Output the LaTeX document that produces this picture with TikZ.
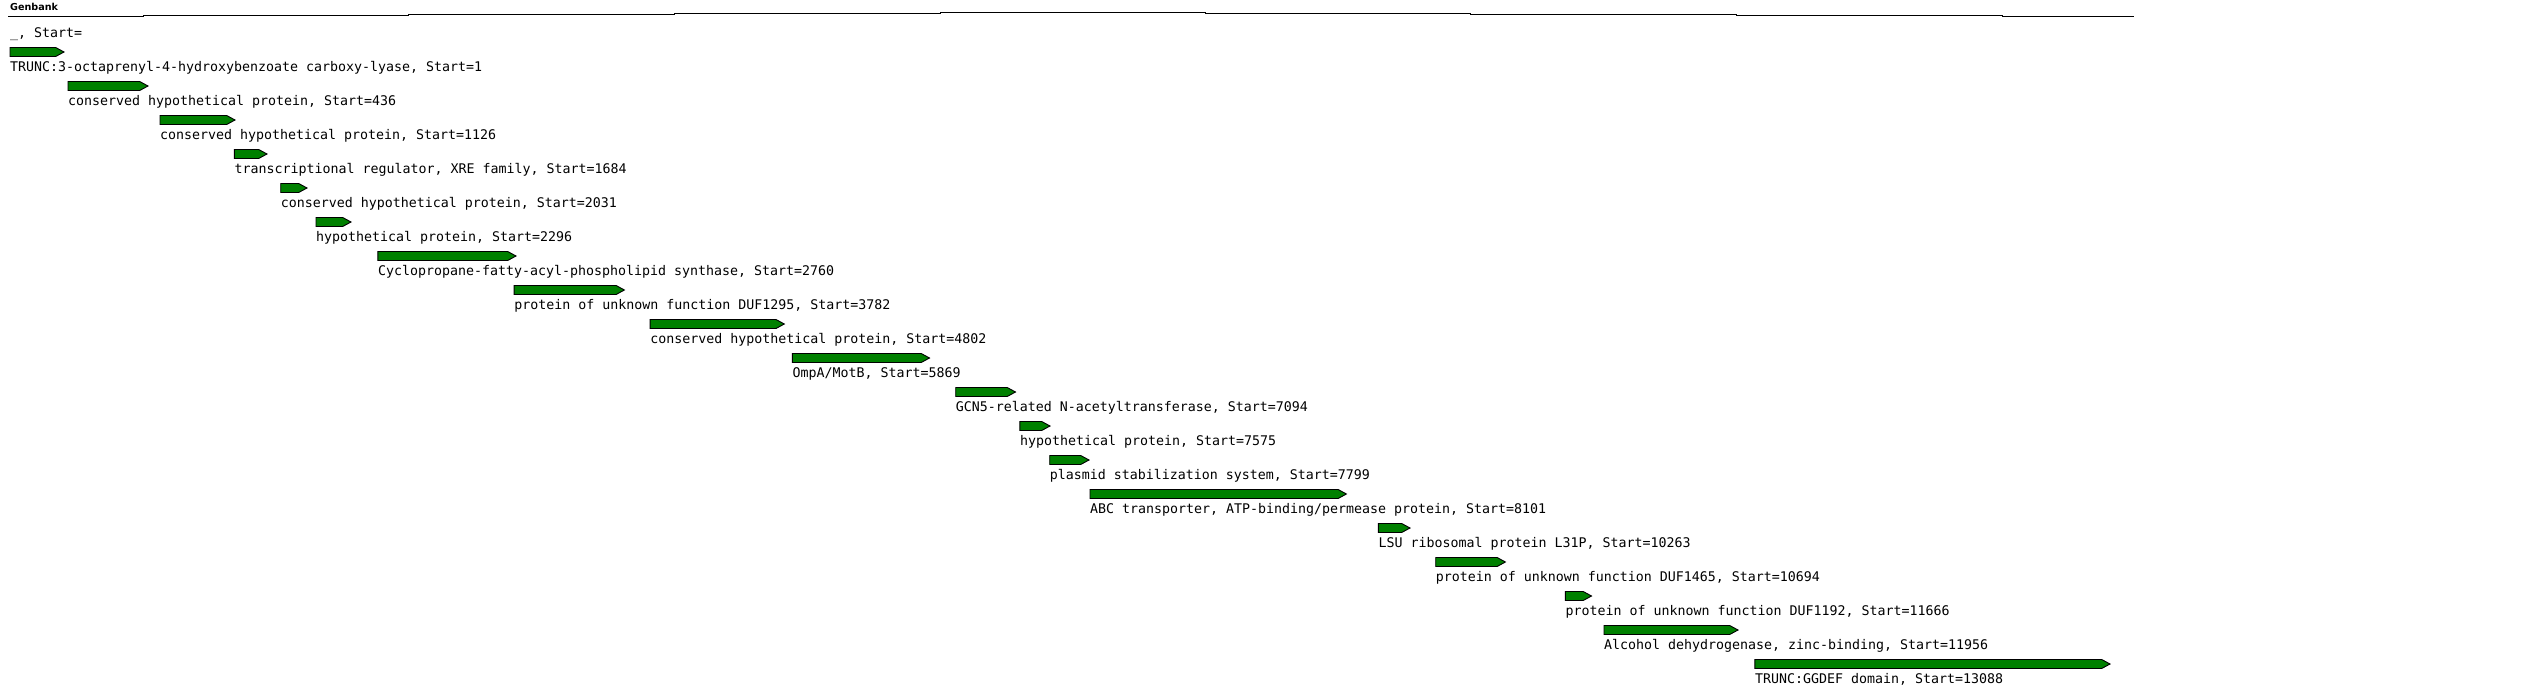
\documentclass[tikz,border=0pt]{standalone}
\usepackage{fontspec}
\setmonofont{DejaVu Sans Mono}
\newfontfamily\gbfont{DejaVu Sans}
\definecolor{genegreen}{RGB}{0,128,0}
\begin{document}
\begin{tikzpicture}[x=1pt,y=-1pt,
  gene/.style={draw=black, line width=0.9pt, fill=genegreen, line join=miter},
  genelabel/.style={anchor=base west, inner sep=0pt, font=\ttfamily\fontsize{13.29}{15}\selectfont},
  titlelabel/.style={anchor=base west, inner sep=0pt, font=\gbfont\bfseries\fontsize{9.6}{11}\selectfont},
  track/.style={draw=black, line width=1pt}]
\useasboundingbox (0,0) rectangle (2534,693);
\fill[white] (0,0) rectangle (2534,693);
\node[titlelabel] (title) at (10,11) {Genbank};
\coordinate (t0) at (8,17);
\coordinate (t9) at (2134,17);
\draw[track] (t0) -- (143,17) -- (143,16) -- (408,16) -- (408,15) -- (674,15) -- (674,14)
  -- (940,14) -- (940,13) -- (1205,13) -- (1205,14) -- (1470,14) -- (1470,15)
  -- (1736,15) -- (1736,16) -- (2002,16) -- (2002,17) -- (t9);
\node[genelabel] (l0) at (10,37.5) {\_, Start=};
\foreach \k/\xa/\xb/\txt in {
  1/10/64/{TRUNC:3-octaprenyl-4-hydroxybenzoate carboxy-lyase, Start=1},
  2/68/148/{conserved hypothetical protein, Start=436},
  3/160/235/{conserved hypothetical protein, Start=1126},
  4/234.4/267/{transcriptional regulator, XRE family, Start=1684},
  5/280.7/307/{conserved hypothetical protein, Start=2031},
  6/316/351/{hypothetical protein, Start=2296},
  7/377.9/516/{Cyclopropane-fatty-acyl-phospholipid synthase, Start=2760},
  8/514.1/624.4/{protein of unknown function DUF1295, Start=3782},
  9/650.1/784.3/{conserved hypothetical protein, Start=4802},
  10/792.4/929.5/{OmpA/MotB, Start=5869},
  11/955.7/1015.5/{GCN5-related N-acetyltransferase, Start=7094},
  12/1019.9/1050/{hypothetical protein, Start=7575},
  13/1049.7/1089/{plasmid stabilization system, Start=7799},
  14/1090/1346.4/{ABC transporter, ATP-binding/permease protein, Start=8101},
  15/1378.3/1410/{LSU ribosomal protein L31P, Start=10263},
  16/1435.7/1505.4/{protein of unknown function DUF1465, Start=10694},
  17/1565.3/1591.5/{protein of unknown function DUF1192, Start=11666},
  18/1604/1738/{Alcohol dehydrogenase, zinc-binding, Start=11956},
  19/1754.9/2110/{TRUNC:GGDEF domain, Start=13088}} {
  \pgfmathsetmacro\ytop{47.5+34*(\k-1)}
  \draw[gene] (\xa,\ytop) -- (\xb-8.3,\ytop) -- (\xb,\ytop+4.5) -- (\xb-8.3,\ytop+9)
     -- (\xa,\ytop+9) -- cycle;
  \node[genelabel] (l\k) at (\xa,\ytop+24) {\txt};
}
\end{tikzpicture}
\end{document}
